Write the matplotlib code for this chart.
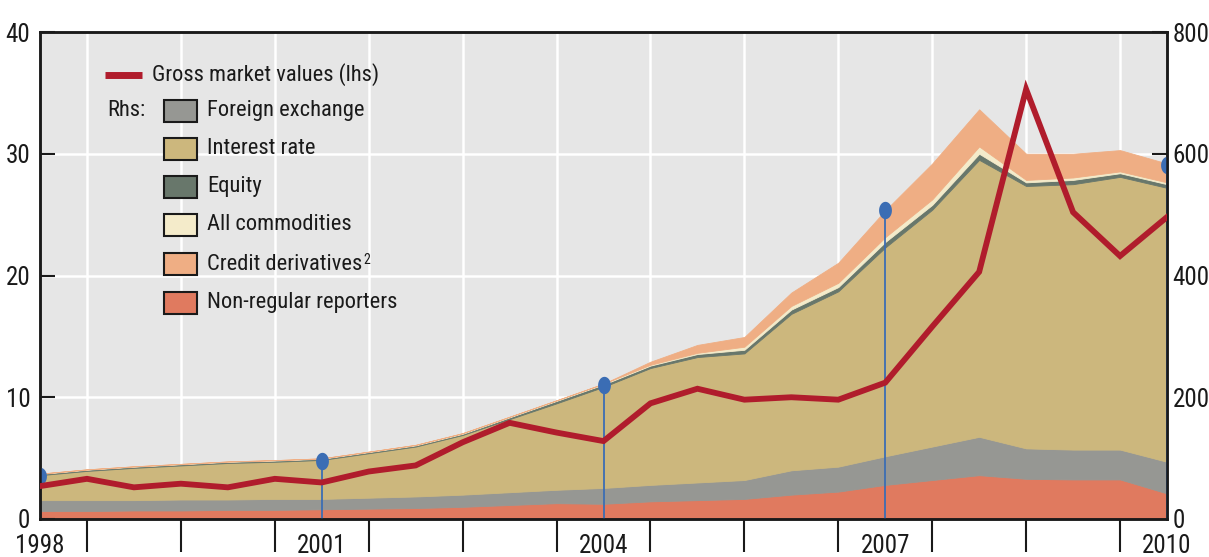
import matplotlib
matplotlib.use('Agg')
import matplotlib.pyplot as plt
from matplotlib.patches import Rectangle
from matplotlib.path import Path
from matplotlib.lines import Line2D
import numpy as np

# ---------------- data ----------------
years = [1998, 1998, 1999, 1999, 2000, 2000, 2001, 2001, 2002, 2002, 2003, 2003,
         2004, 2004, 2005, 2005, 2006, 2006, 2007, 2007, 2008, 2008, 2009, 2009, 2010]
months = [6, 12] * 12 + [6]

# Rhs stacked notional amounts (USD trn), bottom to top
non_regular = [13, 13, 14, 14, 15, 15, 16, 17, 18, 20, 23, 26, 25, 29, 31, 33, 40, 45, 56, 64, 72, 66, 65, 65, 42]
foreign_exchange = [18, 18, 17, 18, 17, 18, 17, 18, 19, 20, 21, 22, 26, 27, 29, 31, 40, 41, 47, 55, 63, 50, 49, 49, 52]
interest_rate = [41, 48, 53, 56, 60, 61, 64, 73, 82, 98, 120, 142, 166, 192, 206, 208, 257, 288, 343, 389, 455, 431, 436, 448, 450]
equity = [2, 2, 2, 2, 2, 2, 2, 2, 2, 2, 3, 4, 4, 4, 5, 6, 7, 7, 9, 8, 10, 6, 7, 6, 6]
commodities = [0.5, 0.5, 0.5, 0.5, 0.5, 0.7, 0.6, 0.6, 0.8, 1, 1, 1, 1.3, 1.4, 2, 5, 6, 7, 8, 9, 12, 4, 4, 3, 3]
credit = [0, 0, 0, 0, 0, 0, 0, 0, 0, 0, 0, 0, 0, 5, 13, 16, 22, 33, 44, 59, 61, 43, 39, 35, 31]

# Lhs gross market values (USD trn)
gross_market = [2.7, 3.3, 2.6, 2.9, 2.6, 3.3, 3.0, 3.9, 4.4, 6.3, 7.9, 7.1, 6.4, 9.5, 10.7, 9.8,
                10.0, 9.8, 11.2, 15.8, 20.3, 35.3, 25.2, 21.6, 24.8]

# Triennial survey markers (rhs)
survey_years = [1998, 2001, 2004, 2007, 2010]
survey_values = [70, 96, 220, 507, 582]

xtick_labels = ['1998', '2001', '2004', '2007', '2010']

# ---------------- style ----------------
FONT = ['Liberation Sans Narrow', 'Roboto Condensed', 'Archivo Narrow', 'Liberation Sans', 'DejaVu Sans']
plt.rcParams['font.family'] = FONT
TXT = '#1a1a1a'
FS_TICK = 18
FS_LEG = 16.2

c_nonreg = '#e07a5f'
c_fx = '#969793'
c_ir = '#ccb77d'
c_eq = '#68776b'
c_com = '#f4ebca'
c_cds = '#efae84'
c_red = '#b01c2c'
c_blue = '#3b6db4'
c_bg = '#e6e6e6'

W, H = 1209, 557
fig = plt.figure(figsize=(W / 100, H / 100), dpi=100)
L, R, T, B = 40, 1167, 32, 519
ax2 = fig.add_axes([L / W, 1 - B / H, (R - L) / W, (B - T) / H])
ax = ax2.twinx()

x = np.array(years) + np.array(months) / 12.0

ax2.set_facecolor(c_bg)
ax2.set_axisbelow(True)

cols = [c_nonreg, c_fx, c_ir, c_eq, c_com, c_cds]
polys = ax2.stackplot(x, non_regular, foreign_exchange, interest_rate, equity, commodities, credit,
                      colors=cols, linewidth=0.6)
for p, c in zip(polys, cols):
    p.set_edgecolor(c)
    p.set_zorder(2)

# survey stems
sx = np.array(survey_years) + 0.5
ax2.vlines(sx, 0, survey_values, color=c_blue, lw=1.3, zorder=3)
th = np.linspace(0, 2 * np.pi, 40)
ell = Path(np.column_stack([0.74 * np.cos(th), np.sin(th)]), closed=True)
ax2.plot(sx, survey_values, linestyle='none', marker=ell, markersize=12.5,
         color=c_blue, markeredgewidth=0, zorder=4)

ax2.set_ylim(0, 800)
ax2.set_xlim(1998.5, 2010.5)
ax2.set_yticks([0, 200, 400, 600, 800])
ax2.set_xticks(np.arange(1999, 2011), minor=False)
ax2.set_xticks(sx, minor=True)
ax2.set_xticklabels([], minor=False)
ax2.set_xticklabels(xtick_labels, minor=True)
ax2.grid(True, which='major', color='white', lw=1.8)
ax2.tick_params(axis='x', which='major', direction='out', length=24, width=1.5, color=TXT)
ax2.tick_params(axis='x', which='minor', length=0, pad=11, labelsize=FS_TICK, labelcolor=TXT)
ax2.tick_params(axis='y', which='both', left=False, labelleft=False, right=True, labelright=True,
                direction='in', length=11, width=1.5, pad=4, labelsize=FS_TICK, labelcolor=TXT, color=TXT)

# lhs line on top
ax.set_zorder(ax2.get_zorder() + 1)
ax.patch.set_visible(False)
ax.plot(x, gross_market, color=c_red, lw=4.2, solid_joinstyle='miter', zorder=5)
ax.set_ylim(0, 40)
ax.set_yticks([0, 10, 20, 30, 40])
ax.yaxis.set_label_position('left')
ax.yaxis.tick_left()
ax.tick_params(axis='y', which='both', left=True, labelleft=True, right=False, labelright=False,
               direction='in', length=11, width=1.5, pad=7, labelsize=FS_TICK, labelcolor=TXT, color=TXT)
ax.tick_params(axis='x', which='both', bottom=False, labelbottom=False)

for a in (ax, ax2):
    for s in a.spines.values():
        s.set_linewidth(1.8)
        s.set_color(TXT)


# ---------------- legend (manual) ----------------
def axc(px, py):
    return ((px - L) / (R - L), (B - py) / (B - T))

lt = ax.transAxes
x0, y0 = axc(105, 75)
x1, _ = axc(142, 75)
ax.add_line(Line2D([x0, x1], [y0, y0], transform=lt, color=c_red, lw=5, solid_capstyle='butt', zorder=10))
tx, ty = axc(152, 75)
ax.text(tx, ty, 'Gross market values (lhs)', transform=lt, va='center', ha='left', fontsize=FS_LEG, color=TXT, zorder=10)
tx, ty = axc(107, 110)
ax.text(tx, ty, 'Rhs:', transform=lt, va='center', ha='left', fontsize=FS_LEG, color=TXT, zorder=10)

legend_items = [('Foreign exchange', c_fx), ('Interest rate', c_ir), ('Equity', c_eq),
                ('All commodities', c_com), ('Credit derivatives', c_cds), ('Non-regular reporters', c_nonreg)]
row_y = [110.5, 148.5, 186.5, 225, 264, 302.5]
for (lab, col), ry in zip(legend_items, row_y):
    bx0, by0 = axc(164, ry + 11)
    bx1, by1 = axc(197, ry - 11)
    ax.add_patch(Rectangle((bx0, by0), bx1 - bx0, by1 - by0, transform=lt, facecolor=col,
                           edgecolor='#1a1a1a', lw=1.5, zorder=10))
    tx, ty = axc(207, ry)
    t = ax.text(tx, ty, lab, transform=lt, va='center', ha='left', fontsize=FS_LEG, color=TXT, zorder=10)
    if lab == 'Credit derivatives':
        ax.annotate('2', xy=(1, 1), xycoords=t, xytext=(1, 0), textcoords='offset points',
                    va='top', ha='left', fontsize=10, color=TXT, zorder=10)

fig.savefig('out.png', dpi=100)
